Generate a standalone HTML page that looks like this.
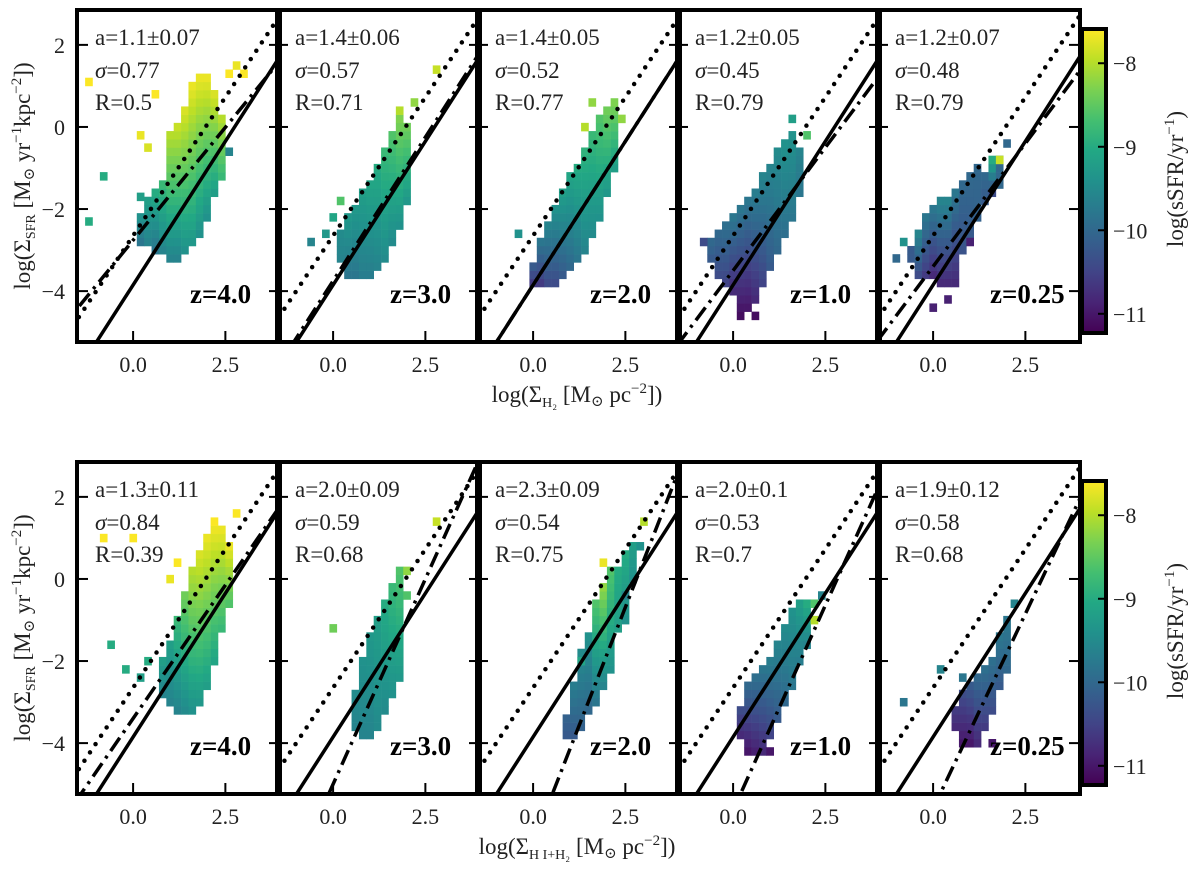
<!DOCTYPE html>
<html><head><meta charset="utf-8"><style>
html,body{margin:0;padding:0;background:#fff;width:1200px;height:885px;overflow:hidden;}
svg{display:block;}
text,tspan{font-family:"Liberation Serif","DejaVu Serif",serif;}
</style></head><body>
<svg id="fig" width="1200" height="885" viewBox="0 0 1200 885" xmlns="http://www.w3.org/2000/svg" font-family="Liberation Serif, serif"></svg>
<script>
// ---- data ----
const redshifts = ["z=4.0","z=3.0","z=2.0","z=1.0","z=0.25"];
const slopesTop = ["a=1.1\u00b10.07","a=1.4\u00b10.06","a=1.4\u00b10.05","a=1.2\u00b10.05","a=1.2\u00b10.07"];
const sigmaTop = ["0.77","0.57","0.52","0.45","0.48"];
const rTop = ["0.5","0.71","0.77","0.79","0.79"];
const slopesBot = ["a=1.3\u00b10.11","a=2.0\u00b10.09","a=2.3\u00b10.09","a=2.0\u00b10.1","a=1.9\u00b10.12"];
const sigmaBot = ["0.84","0.59","0.54","0.53","0.58"];
const rBot = ["0.39","0.68","0.75","0.7","0.68"];
const fitSlopeTop = [1.1,1.4,1.4,1.2,1.2];
const fitIntTop = [-2.76,-3.75,-3.85,-3.5,-3.4];
const fitSlopeBot = [1.3,2.0,2.3,2.0,1.9];
const fitIntBot = [-3.4,-5.0,-6.44,-5.64,-5.6];
const ksSlope = 1.4, ksInt = -3.85;     // solid
const dotSlope = 1.35, dotInt = -2.65;  // dotted
const xTicks = [0.0, 2.5];
const xTickLabels = ["0.0","2.5"];
const yTicks = [2,0,-2,-4];
const yTickLabels = ["2","0","\u22122","\u22124"];
const cbTicks = [-8,-9,-10,-11];
const cbTickLabels = ["\u22128","\u22129","\u221210","\u221211"];
// heatmap columns: [x, yLow, yHigh, sSFR bottom, sSFR top]
const colsTop = [
 [[0.2,-2.8,-2.2,-9.8,-9.4],[0.4,-2.8,-1.8,-9.6,-9.2],[0.6,-3.0,-1.6,-9.8,-9.0],[0.8,-3.0,-1.4,-9.6,-8.8],[1.0,-3.2,-0.2,-9.6,-8.0],[1.2,-3.2,0.0,-9.6,-7.9],[1.4,-3.0,0.4,-9.4,-7.8],[1.6,-2.8,1.0,-9.3,-7.7],[1.8,-2.6,1.2,-9.4,-7.7],[2.0,-2.2,1.2,-9.4,-7.7],[2.2,-1.6,0.8,-9.2,-7.8],[2.4,-1.2,0.2,-8.8,-8.0]],
 [[0.2,-3.2,-2.6,-9.6,-9.5],[0.4,-3.6,-2.2,-9.8,-9.3],[0.6,-3.6,-2.0,-9.8,-9.3],[0.8,-3.6,-1.6,-9.7,-9.2],[1.0,-3.6,-1.4,-9.7,-9.1],[1.2,-3.4,-1.0,-9.6,-9.0],[1.4,-3.2,-0.6,-9.5,-8.8],[1.6,-2.8,-0.2,-9.5,-8.6],[1.8,-2.4,0.2,-9.4,-8.3],[2.0,-1.8,0.0,-9.3,-8.4]],
 [[0.0,-3.8,-3.4,-10.6,-10.2],[0.2,-3.8,-2.8,-10.6,-9.8],[0.4,-3.8,-2.4,-10.4,-9.6],[0.6,-3.8,-2.0,-10.4,-9.4],[0.8,-3.6,-1.6,-10.2,-9.2],[1.0,-3.4,-1.2,-10.0,-9.1],[1.2,-3.2,-1.0,-9.8,-9.0],[1.4,-3.0,-0.6,-9.6,-8.9],[1.6,-2.6,-0.2,-9.5,-8.8],[1.8,-2.2,0.2,-9.4,-8.6],[2.0,-1.6,0.4,-9.3,-8.4],[2.2,-1.0,0.6,-9.2,-8.3]],
 [[-0.6,-3.2,-2.8,-10.2,-10.0],[-0.4,-3.6,-2.6,-10.4,-10.0],[-0.2,-3.8,-2.4,-10.5,-9.9],[0.0,-4.0,-2.2,-10.8,-9.8],[0.2,-4.4,-2.0,-11.0,-9.8],[0.4,-4.4,-1.8,-11.0,-9.8],[0.6,-4.2,-1.6,-10.8,-9.7],[0.8,-3.8,-1.2,-10.5,-9.6],[1.0,-3.4,-1.0,-10.2,-9.6],[1.2,-3.0,-0.6,-10.0,-9.5],[1.4,-2.6,-0.4,-9.9,-9.4],[1.6,-2.2,-0.2,-9.8,-9.4],[1.8,-1.6,-0.6,-9.8,-9.6]],
 [[-0.6,-3.2,-3.0,-10.2,-10.2],[-0.4,-3.6,-2.6,-10.4,-9.6],[-0.2,-3.6,-2.2,-10.6,-9.8],[0.0,-3.6,-2.0,-10.8,-9.8],[0.2,-3.8,-1.8,-10.8,-9.6],[0.4,-3.8,-1.8,-10.8,-9.6],[0.6,-3.8,-1.6,-10.8,-9.8],[0.8,-3.0,-1.4,-10.3,-10.0],[1.0,-2.6,-1.2,-10.2,-10.0],[1.2,-2.2,-1.0,-10.1,-10.0],[1.4,-1.8,-1.2,-10.2,-10.0],[1.6,-1.6,-0.8,-10.4,-9.0],[1.8,-1.4,-0.8,-10.0,-10.0]]
];
const extraTop = [
 [[-1.2,1.1,-7.6],[0.6,0.8,-7.6],[0.2,-0.2,-7.7],[0.4,-0.5,-7.8],[-0.8,-1.2,-9.0],[0.2,-1.7,-9.2],[-1.2,-2.3,-9.0],[2.8,1.5,-7.7],[2.6,1.3,-7.6],[3.0,1.3,-7.6],[2.6,-0.6,-9.6]],
 [[-0.6,-2.8,-9.6],[-0.2,-2.6,-9.3],[0.0,-2.2,-9.1],[0.2,-1.8,-8.6],[2.2,0.6,-8.2],[2.8,1.4,-7.9],[1.8,0.4,-8.0]],
 [[-0.4,-2.6,-9.4],[2.4,0.2,-8.2],[1.4,0.0,-8.0],[1.6,0.6,-8.2]],
 [[-0.8,-2.8,-10.4],[1.6,0.2,-9.2],[2.0,-0.2,-8.6],[0.6,-4.6,-11.1],[0.2,-4.6,-11.1]],
 [[-1.0,-3.2,-10.0],[-0.8,-2.8,-9.4],[0.0,-4.4,-10.9],[0.4,-4.2,-10.9],[1.0,-2.8,-10.9],[2.0,-0.4,-10.0],[1.8,-0.8,-7.9]]
];
const colsBot = [
 [[0.8,-2.8,-2.0,-9.6,-9.2],[1.0,-3.0,-1.6,-9.6,-9.2],[1.2,-3.2,-1.0,-9.6,-8.8],[1.4,-3.2,-0.4,-9.5,-8.4],[1.6,-3.2,0.2,-9.4,-8.0],[1.8,-3.0,0.6,-9.3,-7.8],[2.0,-2.6,1.0,-9.2,-7.7],[2.2,-2.0,1.4,-9.1,-7.6],[2.4,-1.2,1.2,-8.8,-7.7],[2.6,-0.6,0.8,-8.6,-7.7]],
 [[0.6,-3.6,-2.8,-9.6,-9.5],[0.8,-3.8,-2.0,-9.6,-9.4],[1.0,-3.8,-1.4,-9.6,-9.3],[1.2,-3.6,-1.0,-9.5,-9.2],[1.4,-3.2,-0.6,-9.5,-9.0],[1.6,-2.8,-0.2,-9.4,-8.8],[1.8,-2.4,0.2,-9.3,-8.6]],
 [[0.9,-3.8,-3.4,-10.2,-10.1],[1.1,-3.8,-2.6,-10.2,-9.7],[1.3,-3.6,-1.8,-10.1,-9.5],[1.5,-3.2,-1.4,-10.0,-9.4],[1.7,-3.0,-0.6,-9.8,-8.6],[1.9,-2.6,-0.2,-9.6,-8.2],[2.1,-2.2,0.2,-9.4,-8.6],[2.3,-1.2,0.2,-9.2,-9.0],[2.5,-1.0,0.6,-9.4,-9.0],[2.7,0.0,0.8,-9.4,-9.2]],
 [[0.2,-3.8,-3.2,-10.8,-10.4],[0.4,-4.2,-2.6,-11.0,-10.0],[0.6,-4.2,-2.4,-10.9,-9.9],[0.8,-4.2,-2.2,-10.8,-9.8],[1.0,-3.8,-2.0,-10.5,-9.7],[1.2,-3.4,-1.6,-10.2,-9.6],[1.4,-3.0,-1.2,-10.0,-9.5],[1.6,-2.6,-0.8,-9.8,-9.4],[1.8,-2.0,-0.6,-9.7,-9.2],[2.0,-1.6,-0.6,-9.6,-9.0]],
 [[0.6,-3.6,-3.2,-10.8,-10.6],[0.8,-4.0,-2.8,-11.0,-10.4],[1.0,-4.0,-2.6,-11.0,-10.2],[1.2,-4.0,-2.4,-10.8,-10.0],[1.4,-3.6,-2.2,-10.6,-9.9],[1.6,-3.2,-2.0,-10.4,-9.9],[1.8,-2.6,-1.4,-10.2,-9.8],[2.0,-2.2,-1.0,-10.0,-9.8]]
];
const extraBot = [
 [[0.0,1.0,-7.6],[1.2,0.4,-7.6],[1.0,0.0,-7.7],[0.4,-2.0,-9.0],[0.2,-2.4,-9.2],[-0.6,-1.6,-9.0],[-0.2,-2.2,-9.0],[2.8,1.6,-7.6],[-0.8,1.0,-7.6]],
 [[0.0,-1.2,-8.4],[2.0,-0.4,-8.6],[2.8,1.4,-7.9],[2.0,0.2,-8.2]],
 [[1.3,-2.0,-9.1],[3.0,1.4,-8.0],[2.9,0.8,-9.4],[2.5,-0.4,-9.6],[1.9,0.4,-7.7]],
 [[2.2,-0.6,-8.6],[2.2,-1.0,-8.0],[2.4,-0.4,-9.6],[1.0,-4.2,-11.0]],
 [[-0.8,-3.0,-9.8],[0.2,-2.2,-9.6],[2.2,-0.6,-9.6],[1.6,-4.0,-11.0],[0.8,-2.4,-9.8]]
];

// ---- layout ----
const NS="http://www.w3.org/2000/svg";
const svg=document.getElementById('fig');
const panelLefts=[77,277,477,677,877], PW=203, PH=332;
const rowTops=[10,462];
const XMIN=-1.52, XMAX=3.98, YMIN=-5.24, YMAX=2.85;
const VMIN=-11.23, VMAX=-7.59;
const vir=[[0,'#440154'],[0.1,'#482475'],[0.2,'#414487'],[0.3,'#355f8d'],[0.4,'#2a788e'],[0.5,'#21918c'],[0.6,'#22a884'],[0.7,'#44bf70'],[0.8,'#7ad151'],[0.9,'#bddf26'],[1,'#fde725']];
function hx(h){return [1,3,5].map(i=>parseInt(h.substr(i,2),16));}
function cmap(v){let t=Math.max(0,Math.min(1,(v-VMIN)/(VMAX-VMIN)));
 for(let i=0;i<vir.length-1;i++){if(t<=vir[i+1][0]){const f=(t-vir[i][0])/(vir[i+1][0]-vir[i][0]);const a=hx(vir[i][1]),b=hx(vir[i+1][1]);return 'rgb('+a.map((c,k)=>Math.round(c+(b[k]-c)*f)).join(',')+')';}}
 return vir[vir.length-1][1];}
function el(tag,attrs,parent){const e=document.createElementNS(NS,tag);for(const k in attrs)e.setAttribute(k,attrs[k]);(parent||svg).appendChild(e);return e;}
function txt(s,attrs,parent){const e=el('text',attrs,parent);e.textContent=s;return e;}

const defs=el('defs',{});
function drawPanel(row,i,cols,extras,fs,fi,la,ls,lr){
 const L=panelLefts[i], T=rowTops[row];
 const sx=x=>L+(x-XMIN)/(XMAX-XMIN)*PW;
 const sy=y=>T+(YMAX-y)/(YMAX-YMIN)*PH;
 const cid='clip'+row+'_'+i;
 const cp=el('clipPath',{id:cid},defs); el('rect',{x:L,y:T,width:PW,height:PH},cp);
 const g=el('g',{'clip-path':'url(#'+cid+')'});
 
 
 const cw=(0.2)/(XMAX-XMIN)*PW, ch=0.2/(YMAX-YMIN)*PH;
 const hm=el('g',{},g);
 
 
 cols.forEach(c=>{const n=Math.round((c[2]-c[1])/0.2);
  for(let k=0;k<=n;k++){const y=c[1]+k*0.2;const v=n?c[3]+(c[4]-c[3])*k/n:c[3];
   const r=el('rect',{x:sx(c[0])-cw/2,y:sy(y)-ch/2,width:cw+0.3,height:ch+0.3,fill:cmap(v)},hm);
   
   }});
 extras.forEach(c=>{const r=el('rect',{x:sx(c[0])-cw/2,y:sy(c[1])-ch/2,width:cw+0.3,height:ch+0.3,fill:cmap(c[2])},hm);
   
   });
 function line(m,b,style,name){const x0=XMIN-1,x1=XMAX+1;
  const p=el('line',Object.assign({x1:sx(x0),y1:sy(m*x0+b),x2:sx(x1),y2:sy(m*x1+b),stroke:'#000',fill:'none'},style),g);
  
  }
 line(dotSlope,dotInt,{'stroke-width':4.5,'stroke-dasharray':'0 10','stroke-linecap':'round'},'dotted-relation');
 line(ksSlope,ksInt,{'stroke-width':3.5},'kennicutt-schmidt-line');
 line(fs,fi,{'stroke-width':3.5,'stroke-dasharray':'16 6 3 6'},'fit-line');
 yTicks.forEach(t=>{el('line',{x1:L,x2:L+11,y1:sy(t),y2:sy(t),stroke:'#000','stroke-width':2});
  el('line',{x1:L+PW-11,x2:L+PW,y1:sy(t),y2:sy(t),stroke:'#000','stroke-width':2});});
 xTicks.forEach((t,k)=>{el('line',{x1:sx(t),x2:sx(t),y1:T+PH-11,y2:T+PH,stroke:'#000','stroke-width':2});
  const tl=txt(xTickLabels[k],{x:sx(t),y:T+PH+30,'font-size':22,'text-anchor':'middle',fill:'#222'});
  
  });
 if(i===0){yTicks.forEach((t,k)=>{const tl=txt(yTickLabels[k],{x:L-12,y:sy(t)+8,'font-size':22,'text-anchor':'end',fill:'#222'});
  
  });}
 const fr=el('rect',{x:L,y:T,width:PW,height:PH,fill:'none',stroke:'#000','stroke-width':4});
 
 
 const a=txt(la,{x:L+18,y:T+35,'font-size':23,fill:'#222'});
 
 
 const s=el('text',{x:L+18,y:T+68,'font-size':23,fill:'#222'});
 
 
 const si=el('tspan',{'font-style':'italic'},s); si.textContent='\u03c3'; const s2=el('tspan',{},s); s2.textContent='='+ls;
 const rr=txt('R='+lr,{x:L+18,y:T+100,'font-size':23,fill:'#222'});
 
 
 const z=txt(redshifts[i],{x:L+113,y:T+293,'font-size':27,'font-weight':'bold',fill:'#000'});
 
 
}
for(let i=0;i<5;i++){
 drawPanel(0,i,colsTop[i],extraTop[i],fitSlopeTop[i],fitIntTop[i],slopesTop[i],sigmaTop[i],rTop[i]);
 drawPanel(1,i,colsBot[i],extraBot[i],fitSlopeBot[i],fitIntBot[i],slopesBot[i],sigmaBot[i],rBot[i]);
}
[29,481].forEach((cy,row)=>{
 const CX=1082,CW=24,CH=304;
 const gid='cbg'+row;
 const lg=el('linearGradient',{id:gid,x1:0,y1:1,x2:0,y2:0},defs);
 vir.forEach(s=>el('stop',{offset:s[0],'stop-color':s[1]},lg));
 const cb=el('rect',{x:CX,y:cy,width:CW,height:CH,fill:'url(#'+gid+')',stroke:'#000','stroke-width':4});
 
 
 const cs=v=>cy+(VMAX-v)/(VMAX-VMIN)*CH;
 cbTicks.forEach((t,k)=>{el('line',{x1:CX+CW-8,x2:CX+CW,y1:cs(t),y2:cs(t),stroke:'#000','stroke-width':2});
  const tl=txt(cbTickLabels[k],{x:CX+CW+7,y:cs(t)+8,'font-size':22,fill:'#222'});
  
  });
 const lab=el('text',{x:0,y:0,'font-size':23,'text-anchor':'middle',fill:'#222',transform:'translate(1183,'+(cy+150)+') rotate(-90)'});
 
 
 lab.innerHTML='log(sSFR/yr<tspan dy="-9" font-size="15">\u22121</tspan><tspan dy="9">)</tspan>';
});
[176,628].forEach(cy=>{
 const t=el('text',{x:0,y:0,'font-size':23,'text-anchor':'middle',fill:'#222',transform:'translate(30,'+cy+') rotate(-90)'});
 
 
 t.innerHTML='log(\u03a3<tspan dy="5" font-size="14">SFR</tspan><tspan dy="-5"> [M</tspan><tspan font-size="15" dy="4">\u2299</tspan><tspan dy="-4"> yr</tspan><tspan dy="-9" font-size="15">\u22121</tspan><tspan dy="9">kpc</tspan><tspan dy="-9" font-size="15">\u22122</tspan><tspan dy="9">])</tspan>';
});
const xt1=el('text',{x:577,y:402,'font-size':23,'text-anchor':'middle',fill:'#222'});


xt1.innerHTML='log(\u03a3<tspan dy="5" font-size="14">H\u2082</tspan><tspan dy="-5"> [M</tspan><tspan font-size="15" dy="4">\u2299</tspan><tspan dy="-4"> pc</tspan><tspan dy="-9" font-size="15">\u22122</tspan><tspan dy="9">])</tspan>';
const xt2=el('text',{x:577,y:854,'font-size':23,'text-anchor':'middle',fill:'#222'});


xt2.innerHTML='log(\u03a3<tspan dy="5" font-size="14">H I+H\u2082</tspan><tspan dy="-5"> [M</tspan><tspan font-size="15" dy="4">\u2299</tspan><tspan dy="-4"> pc</tspan><tspan dy="-9" font-size="15">\u22122</tspan><tspan dy="9">])</tspan>';
</script>
</body></html>
